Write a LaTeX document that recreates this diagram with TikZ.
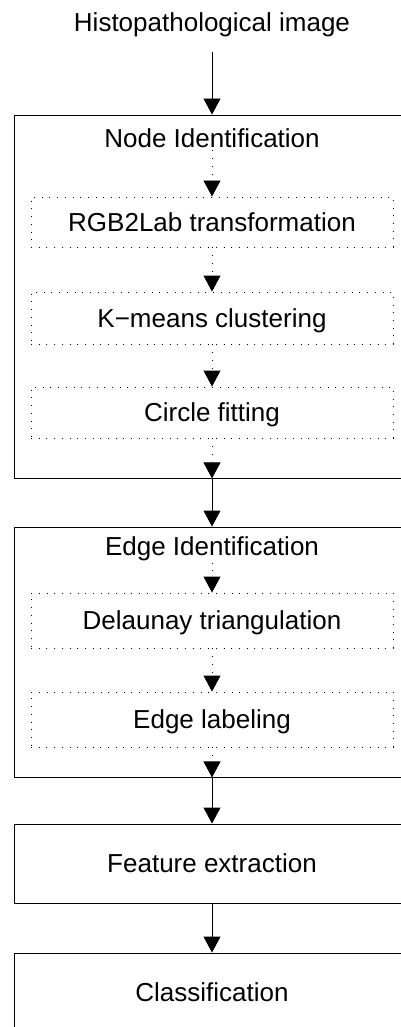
\documentclass[tikz,border=0pt]{standalone}
\usepackage{fontspec}
\setmainfont{Liberation Sans}
\usetikzlibrary{arrows.meta, positioning}

\begin{document}
\begin{tikzpicture}[x=1pt, y=-1pt, font=\fontsize{26}{31}\selectfont,
  stage/.style={draw, line width=0.9pt, minimum width=395pt, inner sep=0pt, text height=18.6pt, text depth=0pt},
  substep/.style={draw, line width=0.9pt, dash pattern=on 1pt off 6.7pt, minimum width=362pt, inner sep=0pt, text height=18.6pt, text depth=0pt},
  caption/.style={anchor=base, inner sep=2pt},
  flow/.style={line width=0.9pt, -{Triangle[length=16pt,width=17pt]}},
  subflow/.style={flow, dash pattern=on 1pt off 6.7pt}]
  \useasboundingbox (0,0) rectangle (401,1027);
  \clip (0,0) rectangle (401,1027);
  % Input
  \node[anchor=base] (input) at (212,32) {Histopathological image};
  % Node identification stage
  \node[stage, minimum height=363pt] (nodeid) at (212,296.5) {};
  \node[caption] (nodetitle) at (212,148) {Node Identification};
  \node[substep, minimum height=50pt] (rgb) at (212,222) {RGB2Lab transformation};
  \node[substep, minimum height=52pt] (kmeans) at (212,318) {K−means clustering};
  \node[substep, minimum height=51pt] (circfit) at (212,412.5) {Circle fitting};
  % Edge identification stage
  \node[stage, minimum height=250pt] (edgeid) at (212,652) {};
  \node[caption] (edgetitle) at (212,555) {Edge Identification};
  \node[substep, minimum height=55pt] (delaunay) at (212,620.5) {Delaunay triangulation};
  \node[substep, minimum height=55pt] (labeling) at (212,719.5) {Edge labeling};
  % Last steps
  \node[stage, minimum height=79pt] (feature) at (212,863.5) {Feature extraction};
  \node[stage, minimum height=79pt] (classif) at (212,992.5) {Classification};
  % Connectors
  \draw[flow, shorten <=11pt] (input) -- (nodeid.north);
  \draw[subflow] (nodetitle) -- (rgb);
  \draw[subflow] (rgb) -- (kmeans);
  \draw[subflow] (kmeans) -- (circfit);
  \draw[subflow] (circfit) -- (nodeid.south);
  \draw[flow] (nodeid.south) -- (edgeid.north);
  \draw[subflow] (edgetitle) -- (delaunay);
  \draw[subflow] (delaunay) -- (labeling);
  \draw[subflow] (labeling) -- (edgeid.south);
  \draw[flow] (edgeid.south) -- (feature);
  \draw[flow] (feature) -- (classif);
\end{tikzpicture}
\end{document}
